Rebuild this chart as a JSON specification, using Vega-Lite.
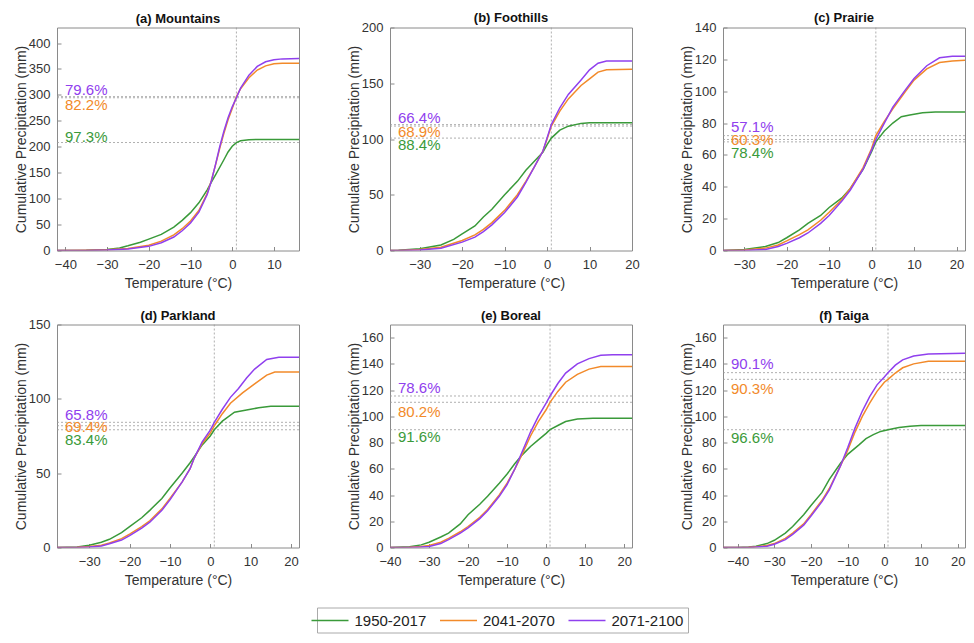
{
  "$schema": "https://vega.github.io/schema/vega-lite/v6.json",
  "background": "white",
  "padding": {"left": 13, "top": 11.5, "right": 2, "bottom": 2},
  "config": {
    "font": "Liberation Sans",
    "view": {"stroke": "#8a8a8a", "strokeWidth": 1},
    "axis": {"grid": false, "domain": false, "tickColor": "#8a8a8a", "tickSize": -4, "labelFontSize": 13, "labelColor": "#333333", "titleFontSize": 14, "titleFontWeight": "normal", "titleColor": "#333333", "labelOverlap": false},
    "axisX": {"labelPadding": 12, "titlePadding": 5, "labelFlush": false},
    "axisY": {"labelPadding": 11, "titlePadding": 0},
    "title": {"fontSize": 13, "fontWeight": "bold", "offset": 1.5, "color": "#111111", "anchor": "middle", "frame": "group"},
    "legend": {"orient": "none", "legendX": 260, "legendY": 580, "direction": "horizontal", "symbolType": "M-2.3125,0H2.3125", "symbolSize": 256, "symbolStrokeWidth": 1.5, "labelFontSize": 15, "labelColor": "#222222", "strokeColor": "#aaaaaa", "fillColor": "white", "padding": 4, "columnPadding": 9.5, "labelOffset": 15.5}
  },
  "datasets": {
    "curves": [
      {"panel":"a","s":"1950-2017","t":-42,"p":0},{"panel":"a","s":"1950-2017","t":-35,"p":0.5},{"panel":"a","s":"1950-2017","t":-30,"p":2},{"panel":"a","s":"1950-2017","t":-27,"p":5},{"panel":"a","s":"1950-2017","t":-25,"p":9},{"panel":"a","s":"1950-2017","t":-22,"p":16},{"panel":"a","s":"1950-2017","t":-20,"p":22},{"panel":"a","s":"1950-2017","t":-17,"p":31},{"panel":"a","s":"1950-2017","t":-14,"p":45},{"panel":"a","s":"1950-2017","t":-12,"p":58},{"panel":"a","s":"1950-2017","t":-10,"p":73},{"panel":"a","s":"1950-2017","t":-8,"p":92},{"panel":"a","s":"1950-2017","t":-6,"p":117},{"panel":"a","s":"1950-2017","t":-5,"p":132},{"panel":"a","s":"1950-2017","t":-4,"p":146},{"panel":"a","s":"1950-2017","t":-2,"p":175},{"panel":"a","s":"1950-2017","t":-1,"p":190},{"panel":"a","s":"1950-2017","t":0,"p":201},{"panel":"a","s":"1950-2017","t":1,"p":208},{"panel":"a","s":"1950-2017","t":2,"p":211.5},{"panel":"a","s":"1950-2017","t":4,"p":213.5},{"panel":"a","s":"1950-2017","t":6,"p":214},{"panel":"a","s":"1950-2017","t":16,"p":214},
      {"panel":"a","s":"2041-2070","t":-42,"p":0},{"panel":"a","s":"2041-2070","t":-35,"p":0.5},{"panel":"a","s":"2041-2070","t":-30,"p":1.5},{"panel":"a","s":"2041-2070","t":-25,"p":4},{"panel":"a","s":"2041-2070","t":-20,"p":10},{"panel":"a","s":"2041-2070","t":-17,"p":18},{"panel":"a","s":"2041-2070","t":-14,"p":30},{"panel":"a","s":"2041-2070","t":-12,"p":42},{"panel":"a","s":"2041-2070","t":-10,"p":57},{"panel":"a","s":"2041-2070","t":-8,"p":77},{"panel":"a","s":"2041-2070","t":-6,"p":110},{"panel":"a","s":"2041-2070","t":-5,"p":135},{"panel":"a","s":"2041-2070","t":-4,"p":165},{"panel":"a","s":"2041-2070","t":-3,"p":197},{"panel":"a","s":"2041-2070","t":-2,"p":226},{"panel":"a","s":"2041-2070","t":-1,"p":252},{"panel":"a","s":"2041-2070","t":0,"p":274},{"panel":"a","s":"2041-2070","t":1,"p":296.7},{"panel":"a","s":"2041-2070","t":2,"p":312},{"panel":"a","s":"2041-2070","t":4,"p":333},{"panel":"a","s":"2041-2070","t":6,"p":348},{"panel":"a","s":"2041-2070","t":8,"p":356},{"panel":"a","s":"2041-2070","t":10,"p":360},{"panel":"a","s":"2041-2070","t":12,"p":361},{"panel":"a","s":"2041-2070","t":16,"p":361},
      {"panel":"a","s":"2071-2100","t":-42,"p":0},{"panel":"a","s":"2071-2100","t":-35,"p":0.2},{"panel":"a","s":"2071-2100","t":-30,"p":0.8},{"panel":"a","s":"2071-2100","t":-25,"p":3},{"panel":"a","s":"2071-2100","t":-20,"p":8},{"panel":"a","s":"2071-2100","t":-17,"p":15},{"panel":"a","s":"2071-2100","t":-14,"p":26},{"panel":"a","s":"2071-2100","t":-12,"p":38},{"panel":"a","s":"2071-2100","t":-10,"p":53},{"panel":"a","s":"2071-2100","t":-8,"p":74},{"panel":"a","s":"2071-2100","t":-6,"p":108},{"panel":"a","s":"2071-2100","t":-5,"p":134},{"panel":"a","s":"2071-2100","t":-4,"p":166},{"panel":"a","s":"2071-2100","t":-3,"p":200},{"panel":"a","s":"2071-2100","t":-2,"p":230},{"panel":"a","s":"2071-2100","t":-1,"p":256},{"panel":"a","s":"2071-2100","t":0,"p":277},{"panel":"a","s":"2071-2100","t":1,"p":294.5},{"panel":"a","s":"2071-2100","t":2,"p":313},{"panel":"a","s":"2071-2100","t":4,"p":338},{"panel":"a","s":"2071-2100","t":6,"p":355},{"panel":"a","s":"2071-2100","t":8,"p":364},{"panel":"a","s":"2071-2100","t":10,"p":368},{"panel":"a","s":"2071-2100","t":12,"p":369.5},{"panel":"a","s":"2071-2100","t":16,"p":370},

      {"panel":"b","s":"1950-2017","t":-37,"p":0},{"panel":"b","s":"1950-2017","t":-35,"p":0.2},{"panel":"b","s":"1950-2017","t":-30,"p":1.5},{"panel":"b","s":"1950-2017","t":-25,"p":5},{"panel":"b","s":"1950-2017","t":-22,"p":10},{"panel":"b","s":"1950-2017","t":-20,"p":15},{"panel":"b","s":"1950-2017","t":-17,"p":22},{"panel":"b","s":"1950-2017","t":-15,"p":30},{"panel":"b","s":"1950-2017","t":-13,"p":37},{"panel":"b","s":"1950-2017","t":-10,"p":50},{"panel":"b","s":"1950-2017","t":-7,"p":62},{"panel":"b","s":"1950-2017","t":-5,"p":72},{"panel":"b","s":"1950-2017","t":-3,"p":80},{"panel":"b","s":"1950-2017","t":-1,"p":88},{"panel":"b","s":"1950-2017","t":0,"p":95},{"panel":"b","s":"1950-2017","t":1,"p":100.8},{"panel":"b","s":"1950-2017","t":3,"p":108},{"panel":"b","s":"1950-2017","t":5,"p":111.5},{"panel":"b","s":"1950-2017","t":8,"p":114},{"panel":"b","s":"1950-2017","t":10,"p":114.5},{"panel":"b","s":"1950-2017","t":20,"p":114.5},
      {"panel":"b","s":"2041-2070","t":-37,"p":0},{"panel":"b","s":"2041-2070","t":-35,"p":0.1},{"panel":"b","s":"2041-2070","t":-30,"p":0.8},{"panel":"b","s":"2041-2070","t":-25,"p":3},{"panel":"b","s":"2041-2070","t":-20,"p":9},{"panel":"b","s":"2041-2070","t":-17,"p":14},{"panel":"b","s":"2041-2070","t":-15,"p":19},{"panel":"b","s":"2041-2070","t":-13,"p":25},{"panel":"b","s":"2041-2070","t":-10,"p":36},{"panel":"b","s":"2041-2070","t":-7,"p":50},{"panel":"b","s":"2041-2070","t":-5,"p":62},{"panel":"b","s":"2041-2070","t":-3,"p":75},{"panel":"b","s":"2041-2070","t":-1,"p":89},{"panel":"b","s":"2041-2070","t":0,"p":100},{"panel":"b","s":"2041-2070","t":1,"p":111.6},{"panel":"b","s":"2041-2070","t":3,"p":125},{"panel":"b","s":"2041-2070","t":5,"p":136},{"panel":"b","s":"2041-2070","t":8,"p":148},{"panel":"b","s":"2041-2070","t":10,"p":154},{"panel":"b","s":"2041-2070","t":12,"p":160},{"panel":"b","s":"2041-2070","t":14,"p":162},{"panel":"b","s":"2041-2070","t":20,"p":162.5},
      {"panel":"b","s":"2071-2100","t":-37,"p":0},{"panel":"b","s":"2071-2100","t":-35,"p":0},{"panel":"b","s":"2071-2100","t":-30,"p":0.4},{"panel":"b","s":"2071-2100","t":-25,"p":2},{"panel":"b","s":"2071-2100","t":-20,"p":7.5},{"panel":"b","s":"2071-2100","t":-17,"p":12},{"panel":"b","s":"2071-2100","t":-15,"p":17},{"panel":"b","s":"2071-2100","t":-13,"p":23},{"panel":"b","s":"2071-2100","t":-10,"p":34},{"panel":"b","s":"2071-2100","t":-7,"p":48},{"panel":"b","s":"2071-2100","t":-5,"p":61},{"panel":"b","s":"2071-2100","t":-3,"p":75},{"panel":"b","s":"2071-2100","t":-1,"p":89},{"panel":"b","s":"2071-2100","t":0,"p":101},{"panel":"b","s":"2071-2100","t":1,"p":112.9},{"panel":"b","s":"2071-2100","t":3,"p":128},{"panel":"b","s":"2071-2100","t":5,"p":140},{"panel":"b","s":"2071-2100","t":8,"p":153},{"panel":"b","s":"2071-2100","t":10,"p":162},{"panel":"b","s":"2071-2100","t":12,"p":168},{"panel":"b","s":"2071-2100","t":14,"p":170},{"panel":"b","s":"2071-2100","t":20,"p":170},

      {"panel":"c","s":"1950-2017","t":-35,"p":0},{"panel":"c","s":"1950-2017","t":-30,"p":0.7},{"panel":"c","s":"1950-2017","t":-25,"p":2.5},{"panel":"c","s":"1950-2017","t":-22,"p":5},{"panel":"c","s":"1950-2017","t":-20,"p":8},{"panel":"c","s":"1950-2017","t":-17,"p":13},{"panel":"c","s":"1950-2017","t":-15,"p":17},{"panel":"c","s":"1950-2017","t":-12,"p":22},{"panel":"c","s":"1950-2017","t":-10,"p":27},{"panel":"c","s":"1950-2017","t":-7,"p":33},{"panel":"c","s":"1950-2017","t":-5,"p":39},{"panel":"c","s":"1950-2017","t":-2,"p":51},{"panel":"c","s":"1950-2017","t":0,"p":62},{"panel":"c","s":"1950-2017","t":1,"p":68.2},{"panel":"c","s":"1950-2017","t":3,"p":75},{"panel":"c","s":"1950-2017","t":5,"p":80},{"panel":"c","s":"1950-2017","t":7,"p":84},{"panel":"c","s":"1950-2017","t":9,"p":85},{"panel":"c","s":"1950-2017","t":12,"p":86.5},{"panel":"c","s":"1950-2017","t":15,"p":87},{"panel":"c","s":"1950-2017","t":22,"p":87},
      {"panel":"c","s":"2041-2070","t":-35,"p":0},{"panel":"c","s":"2041-2070","t":-30,"p":0.3},{"panel":"c","s":"2041-2070","t":-25,"p":1.5},{"panel":"c","s":"2041-2070","t":-22,"p":3.5},{"panel":"c","s":"2041-2070","t":-20,"p":6},{"panel":"c","s":"2041-2070","t":-17,"p":10},{"panel":"c","s":"2041-2070","t":-15,"p":13},{"panel":"c","s":"2041-2070","t":-12,"p":19},{"panel":"c","s":"2041-2070","t":-10,"p":24},{"panel":"c","s":"2041-2070","t":-7,"p":32},{"panel":"c","s":"2041-2070","t":-5,"p":39},{"panel":"c","s":"2041-2070","t":-2,"p":52},{"panel":"c","s":"2041-2070","t":0,"p":64},{"panel":"c","s":"2041-2070","t":1,"p":72.1},{"panel":"c","s":"2041-2070","t":3,"p":81},{"panel":"c","s":"2041-2070","t":5,"p":89},{"panel":"c","s":"2041-2070","t":8,"p":100},{"panel":"c","s":"2041-2070","t":10,"p":107},{"panel":"c","s":"2041-2070","t":13,"p":114},{"panel":"c","s":"2041-2070","t":16,"p":118},{"panel":"c","s":"2041-2070","t":19,"p":119},{"panel":"c","s":"2041-2070","t":22,"p":119.5},
      {"panel":"c","s":"2071-2100","t":-35,"p":0},{"panel":"c","s":"2071-2100","t":-30,"p":0},{"panel":"c","s":"2071-2100","t":-25,"p":0.7},{"panel":"c","s":"2071-2100","t":-22,"p":2.5},{"panel":"c","s":"2071-2100","t":-20,"p":4.5},{"panel":"c","s":"2071-2100","t":-17,"p":8},{"panel":"c","s":"2071-2100","t":-15,"p":11},{"panel":"c","s":"2071-2100","t":-12,"p":17},{"panel":"c","s":"2071-2100","t":-10,"p":22},{"panel":"c","s":"2071-2100","t":-7,"p":31},{"panel":"c","s":"2071-2100","t":-5,"p":38},{"panel":"c","s":"2071-2100","t":-2,"p":51},{"panel":"c","s":"2071-2100","t":0,"p":63},{"panel":"c","s":"2071-2100","t":1,"p":69.7},{"panel":"c","s":"2071-2100","t":3,"p":80},{"panel":"c","s":"2071-2100","t":5,"p":90},{"panel":"c","s":"2071-2100","t":8,"p":101},{"panel":"c","s":"2071-2100","t":10,"p":108},{"panel":"c","s":"2071-2100","t":13,"p":116},{"panel":"c","s":"2071-2100","t":16,"p":121},{"panel":"c","s":"2071-2100","t":19,"p":122},{"panel":"c","s":"2071-2100","t":22,"p":122},

      {"panel":"d","s":"1950-2017","t":-38,"p":0},{"panel":"d","s":"1950-2017","t":-33,"p":0.3},{"panel":"d","s":"1950-2017","t":-30,"p":1.5},{"panel":"d","s":"1950-2017","t":-27,"p":3.5},{"panel":"d","s":"1950-2017","t":-25,"p":5.5},{"panel":"d","s":"1950-2017","t":-22,"p":10},{"panel":"d","s":"1950-2017","t":-20,"p":14},{"panel":"d","s":"1950-2017","t":-17,"p":20},{"panel":"d","s":"1950-2017","t":-15,"p":25},{"panel":"d","s":"1950-2017","t":-12,"p":33},{"panel":"d","s":"1950-2017","t":-10,"p":40},{"panel":"d","s":"1950-2017","t":-7,"p":50},{"panel":"d","s":"1950-2017","t":-5,"p":57},{"panel":"d","s":"1950-2017","t":-4,"p":61},{"panel":"d","s":"1950-2017","t":-2,"p":69},{"panel":"d","s":"1950-2017","t":0,"p":75},{"panel":"d","s":"1950-2017","t":1,"p":79.2},{"panel":"d","s":"1950-2017","t":3,"p":85},{"panel":"d","s":"1950-2017","t":6,"p":91},{"panel":"d","s":"1950-2017","t":9,"p":92.5},{"panel":"d","s":"1950-2017","t":12,"p":94},{"panel":"d","s":"1950-2017","t":15,"p":95},{"panel":"d","s":"1950-2017","t":22,"p":95},
      {"panel":"d","s":"2041-2070","t":-38,"p":0},{"panel":"d","s":"2041-2070","t":-33,"p":0.1},{"panel":"d","s":"2041-2070","t":-30,"p":0.6},{"panel":"d","s":"2041-2070","t":-27,"p":1.5},{"panel":"d","s":"2041-2070","t":-25,"p":3},{"panel":"d","s":"2041-2070","t":-22,"p":6},{"panel":"d","s":"2041-2070","t":-20,"p":9},{"panel":"d","s":"2041-2070","t":-17,"p":14},{"panel":"d","s":"2041-2070","t":-15,"p":18},{"panel":"d","s":"2041-2070","t":-12,"p":26},{"panel":"d","s":"2041-2070","t":-10,"p":33},{"panel":"d","s":"2041-2070","t":-7,"p":44},{"panel":"d","s":"2041-2070","t":-5,"p":53},{"panel":"d","s":"2041-2070","t":-4,"p":60},{"panel":"d","s":"2041-2070","t":-2,"p":70},{"panel":"d","s":"2041-2070","t":0,"p":77},{"panel":"d","s":"2041-2070","t":1,"p":81.9},{"panel":"d","s":"2041-2070","t":3,"p":90},{"panel":"d","s":"2041-2070","t":5,"p":97},{"panel":"d","s":"2041-2070","t":8,"p":104},{"panel":"d","s":"2041-2070","t":11,"p":110},{"panel":"d","s":"2041-2070","t":14,"p":116},{"panel":"d","s":"2041-2070","t":16,"p":118},{"panel":"d","s":"2041-2070","t":22,"p":118},
      {"panel":"d","s":"2071-2100","t":-38,"p":0},{"panel":"d","s":"2071-2100","t":-33,"p":0},{"panel":"d","s":"2071-2100","t":-30,"p":0.3},{"panel":"d","s":"2071-2100","t":-27,"p":1},{"panel":"d","s":"2071-2100","t":-25,"p":2.5},{"panel":"d","s":"2071-2100","t":-22,"p":5},{"panel":"d","s":"2071-2100","t":-20,"p":8},{"panel":"d","s":"2071-2100","t":-17,"p":13},{"panel":"d","s":"2071-2100","t":-15,"p":17},{"panel":"d","s":"2071-2100","t":-12,"p":25},{"panel":"d","s":"2071-2100","t":-10,"p":32},{"panel":"d","s":"2071-2100","t":-7,"p":44},{"panel":"d","s":"2071-2100","t":-5,"p":53},{"panel":"d","s":"2071-2100","t":-4,"p":60},{"panel":"d","s":"2071-2100","t":-2,"p":71},{"panel":"d","s":"2071-2100","t":0,"p":79},{"panel":"d","s":"2071-2100","t":1,"p":84.2},{"panel":"d","s":"2071-2100","t":3,"p":93},{"panel":"d","s":"2071-2100","t":5,"p":101},{"panel":"d","s":"2071-2100","t":7,"p":107},{"panel":"d","s":"2071-2100","t":9,"p":114},{"panel":"d","s":"2071-2100","t":11,"p":120},{"panel":"d","s":"2071-2100","t":14,"p":126.5},{"panel":"d","s":"2071-2100","t":17,"p":128},{"panel":"d","s":"2071-2100","t":22,"p":128},

      {"panel":"e","s":"1950-2017","t":-40,"p":0},{"panel":"e","s":"1950-2017","t":-35,"p":0.5},{"panel":"e","s":"1950-2017","t":-32,"p":2},{"panel":"e","s":"1950-2017","t":-30,"p":4},{"panel":"e","s":"1950-2017","t":-27,"p":8},{"panel":"e","s":"1950-2017","t":-25,"p":11},{"panel":"e","s":"1950-2017","t":-22,"p":18},{"panel":"e","s":"1950-2017","t":-20,"p":25},{"panel":"e","s":"1950-2017","t":-17,"p":33},{"panel":"e","s":"1950-2017","t":-15,"p":39},{"panel":"e","s":"1950-2017","t":-12,"p":49},{"panel":"e","s":"1950-2017","t":-10,"p":56},{"panel":"e","s":"1950-2017","t":-8,"p":64},{"panel":"e","s":"1950-2017","t":-6,"p":71},{"panel":"e","s":"1950-2017","t":-4,"p":77},{"panel":"e","s":"1950-2017","t":-2,"p":82},{"panel":"e","s":"1950-2017","t":0,"p":87},{"panel":"e","s":"1950-2017","t":1,"p":89.8},{"panel":"e","s":"1950-2017","t":3,"p":93},{"panel":"e","s":"1950-2017","t":5,"p":96},{"panel":"e","s":"1950-2017","t":8,"p":98},{"panel":"e","s":"1950-2017","t":12,"p":98.5},{"panel":"e","s":"1950-2017","t":22,"p":98.5},
      {"panel":"e","s":"2041-2070","t":-40,"p":0},{"panel":"e","s":"2041-2070","t":-35,"p":0.2},{"panel":"e","s":"2041-2070","t":-32,"p":0.8},{"panel":"e","s":"2041-2070","t":-30,"p":1.5},{"panel":"e","s":"2041-2070","t":-27,"p":4},{"panel":"e","s":"2041-2070","t":-25,"p":7},{"panel":"e","s":"2041-2070","t":-22,"p":12},{"panel":"e","s":"2041-2070","t":-20,"p":16},{"panel":"e","s":"2041-2070","t":-17,"p":23},{"panel":"e","s":"2041-2070","t":-15,"p":29},{"panel":"e","s":"2041-2070","t":-12,"p":40},{"panel":"e","s":"2041-2070","t":-10,"p":49},{"panel":"e","s":"2041-2070","t":-8,"p":60},{"panel":"e","s":"2041-2070","t":-6,"p":72},{"panel":"e","s":"2041-2070","t":-4,"p":85},{"panel":"e","s":"2041-2070","t":-2,"p":96},{"panel":"e","s":"2041-2070","t":0,"p":105},{"panel":"e","s":"2041-2070","t":1,"p":110.7},{"panel":"e","s":"2041-2070","t":3,"p":119},{"panel":"e","s":"2041-2070","t":5,"p":126},{"panel":"e","s":"2041-2070","t":8,"p":132},{"panel":"e","s":"2041-2070","t":11,"p":136},{"panel":"e","s":"2041-2070","t":14,"p":138},{"panel":"e","s":"2041-2070","t":22,"p":138},
      {"panel":"e","s":"2071-2100","t":-40,"p":0},{"panel":"e","s":"2071-2100","t":-35,"p":0},{"panel":"e","s":"2071-2100","t":-32,"p":0.3},{"panel":"e","s":"2071-2100","t":-30,"p":0.8},{"panel":"e","s":"2071-2100","t":-27,"p":3},{"panel":"e","s":"2071-2100","t":-25,"p":6},{"panel":"e","s":"2071-2100","t":-22,"p":11},{"panel":"e","s":"2071-2100","t":-20,"p":15},{"panel":"e","s":"2071-2100","t":-17,"p":22},{"panel":"e","s":"2071-2100","t":-15,"p":28},{"panel":"e","s":"2071-2100","t":-12,"p":39},{"panel":"e","s":"2071-2100","t":-10,"p":48},{"panel":"e","s":"2071-2100","t":-8,"p":60},{"panel":"e","s":"2071-2100","t":-6,"p":74},{"panel":"e","s":"2071-2100","t":-4,"p":88},{"panel":"e","s":"2071-2100","t":-2,"p":100},{"panel":"e","s":"2071-2100","t":0,"p":110},{"panel":"e","s":"2071-2100","t":1,"p":115.5},{"panel":"e","s":"2071-2100","t":3,"p":125},{"panel":"e","s":"2071-2100","t":5,"p":133},{"panel":"e","s":"2071-2100","t":8,"p":140},{"panel":"e","s":"2071-2100","t":11,"p":144},{"panel":"e","s":"2071-2100","t":14,"p":146.5},{"panel":"e","s":"2071-2100","t":17,"p":147},{"panel":"e","s":"2071-2100","t":22,"p":147},

      {"panel":"f","s":"1950-2017","t":-44,"p":0},{"panel":"f","s":"1950-2017","t":-40,"p":0},{"panel":"f","s":"1950-2017","t":-37,"p":0.3},{"panel":"f","s":"1950-2017","t":-35,"p":1},{"panel":"f","s":"1950-2017","t":-32,"p":3},{"panel":"f","s":"1950-2017","t":-30,"p":5.5},{"panel":"f","s":"1950-2017","t":-27,"p":11},{"panel":"f","s":"1950-2017","t":-25,"p":16},{"panel":"f","s":"1950-2017","t":-22,"p":25},{"panel":"f","s":"1950-2017","t":-20,"p":32},{"panel":"f","s":"1950-2017","t":-17,"p":42},{"panel":"f","s":"1950-2017","t":-15,"p":52},{"panel":"f","s":"1950-2017","t":-12,"p":64},{"panel":"f","s":"1950-2017","t":-10,"p":71},{"panel":"f","s":"1950-2017","t":-7,"p":78},{"panel":"f","s":"1950-2017","t":-5,"p":83},{"panel":"f","s":"1950-2017","t":-3,"p":86},{"panel":"f","s":"1950-2017","t":-1,"p":88.5},{"panel":"f","s":"1950-2017","t":1,"p":89.8},{"panel":"f","s":"1950-2017","t":4,"p":91.5},{"panel":"f","s":"1950-2017","t":7,"p":92.5},{"panel":"f","s":"1950-2017","t":10,"p":93},{"panel":"f","s":"1950-2017","t":22,"p":93},
      {"panel":"f","s":"2041-2070","t":-44,"p":0},{"panel":"f","s":"2041-2070","t":-40,"p":0},{"panel":"f","s":"2041-2070","t":-37,"p":0.1},{"panel":"f","s":"2041-2070","t":-35,"p":0.5},{"panel":"f","s":"2041-2070","t":-32,"p":1.5},{"panel":"f","s":"2041-2070","t":-30,"p":3},{"panel":"f","s":"2041-2070","t":-27,"p":7},{"panel":"f","s":"2041-2070","t":-25,"p":11},{"panel":"f","s":"2041-2070","t":-22,"p":18},{"panel":"f","s":"2041-2070","t":-20,"p":25},{"panel":"f","s":"2041-2070","t":-17,"p":36},{"panel":"f","s":"2041-2070","t":-15,"p":45},{"panel":"f","s":"2041-2070","t":-12,"p":62},{"panel":"f","s":"2041-2070","t":-10,"p":74},{"panel":"f","s":"2041-2070","t":-8,"p":88},{"panel":"f","s":"2041-2070","t":-6,"p":100},{"panel":"f","s":"2041-2070","t":-4,"p":110},{"panel":"f","s":"2041-2070","t":-2,"p":119},{"panel":"f","s":"2041-2070","t":0,"p":126},{"panel":"f","s":"2041-2070","t":1,"p":128.2},{"panel":"f","s":"2041-2070","t":3,"p":133},{"panel":"f","s":"2041-2070","t":5,"p":137},{"panel":"f","s":"2041-2070","t":8,"p":140},{"panel":"f","s":"2041-2070","t":12,"p":142},{"panel":"f","s":"2041-2070","t":22,"p":142},
      {"panel":"f","s":"2071-2100","t":-44,"p":0},{"panel":"f","s":"2071-2100","t":-40,"p":0},{"panel":"f","s":"2071-2100","t":-37,"p":0},{"panel":"f","s":"2071-2100","t":-35,"p":0.3},{"panel":"f","s":"2071-2100","t":-32,"p":1},{"panel":"f","s":"2071-2100","t":-30,"p":2.5},{"panel":"f","s":"2071-2100","t":-27,"p":6},{"panel":"f","s":"2071-2100","t":-25,"p":10},{"panel":"f","s":"2071-2100","t":-22,"p":17},{"panel":"f","s":"2071-2100","t":-20,"p":24},{"panel":"f","s":"2071-2100","t":-17,"p":35},{"panel":"f","s":"2071-2100","t":-15,"p":44},{"panel":"f","s":"2071-2100","t":-12,"p":62},{"panel":"f","s":"2071-2100","t":-10,"p":76},{"panel":"f","s":"2071-2100","t":-8,"p":91},{"panel":"f","s":"2071-2100","t":-6,"p":104},{"panel":"f","s":"2071-2100","t":-4,"p":115},{"panel":"f","s":"2071-2100","t":-2,"p":124},{"panel":"f","s":"2071-2100","t":0,"p":130},{"panel":"f","s":"2071-2100","t":1,"p":133.3},{"panel":"f","s":"2071-2100","t":3,"p":139},{"panel":"f","s":"2071-2100","t":5,"p":143},{"panel":"f","s":"2071-2100","t":8,"p":146},{"panel":"f","s":"2071-2100","t":12,"p":147.5},{"panel":"f","s":"2071-2100","t":22,"p":148}
    ],
    "refs": [
      {"panel":"a","s":"2071-2100","y":294.5,"label":"79.6%","lx":-42,"ly":309},
      {"panel":"a","s":"2041-2070","y":296.7,"label":"82.2%","lx":-42,"ly":280},
      {"panel":"a","s":"1950-2017","y":208.2,"label":"97.3%","lx":-42,"ly":219.5},
      {"panel":"b","s":"2071-2100","y":112.9,"label":"66.4%","lx":-37,"ly":119},
      {"panel":"b","s":"2041-2070","y":111.6,"label":"68.9%","lx":-37,"ly":106},
      {"panel":"b","s":"1950-2017","y":100.8,"label":"88.4%","lx":-37,"ly":95},
      {"panel":"c","s":"2071-2100","y":69.7,"label":"57.1%","lx":-35,"ly":77.7},
      {"panel":"c","s":"2041-2070","y":72.1,"label":"60.3%","lx":-35,"ly":69.3},
      {"panel":"c","s":"1950-2017","y":68.2,"label":"78.4%","lx":-35,"ly":61.5},
      {"panel":"d","s":"2071-2100","y":84.2,"label":"65.8%","lx":-38,"ly":88.8},
      {"panel":"d","s":"2041-2070","y":81.9,"label":"69.4%","lx":-38,"ly":81},
      {"panel":"d","s":"1950-2017","y":79.2,"label":"83.4%","lx":-38,"ly":72.4},
      {"panel":"e","s":"2071-2100","y":115.5,"label":"78.6%","lx":-40,"ly":121.9},
      {"panel":"e","s":"2041-2070","y":110.7,"label":"80.2%","lx":-40,"ly":103.4},
      {"panel":"e","s":"1950-2017","y":89.8,"label":"91.6%","lx":-40,"ly":84.3},
      {"panel":"f","s":"2071-2100","y":133.3,"label":"90.1%","lx":-44,"ly":139.7},
      {"panel":"f","s":"2041-2070","y":128.2,"label":"90.3%","lx":-44,"ly":121.1},
      {"panel":"f","s":"1950-2017","y":89.8,"label":"96.6%","lx":-44,"ly":83.8}
    ]
  },
  "columns": 3,
  "bounds": "flush",
  "spacing": {"row": 74, "column": 91},
  "concat": [
    {"title": {"text": "(a) Mountains", "offset": 1.5}, "width": 242, "height": 223,
     "layer": [
      {"data": {"values": [{"t": 1}]}, "mark": {"type": "rule", "color": "#9a9a9a", "strokeDash": [2, 2], "strokeWidth": 0.8}, "encoding": {"x": {"field": "t", "type": "quantitative", "scale": {"domain": [-42, 16], "nice": false}, "axis": {"title": "Temperature (°C)", "values": [-40, -30, -20, -10, 0, 10], "labelOverlap": false}}}},
      {"data": {"name": "refs"}, "transform": [{"filter": "datum.panel === 'a'"}], "mark": {"type": "rule", "color": "#9a9a9a", "strokeDash": [2, 2], "strokeWidth": 0.8}, "encoding": {"y": {"field": "y", "type": "quantitative", "scale": {"domain": [0, 430], "nice": false}, "axis": {"title": "Cumulative Precipitation (mm)", "values": [0, 50, 100, 150, 200, 250, 300, 350, 400], "labelOverlap": false}}}},
      {"data": {"name": "curves"}, "transform": [{"filter": "datum.panel === 'a'"}], "mark": {"type": "line", "strokeWidth": 1.5, "clip": true},
       "encoding": {
        "x": {"field": "t", "type": "quantitative", "scale": {"domain": [-42, 16], "nice": false}, "axis": {"title": "Temperature (°C)", "values": [-40, -30, -20, -10, 0, 10], "labelOverlap": false}},
        "y": {"field": "p", "type": "quantitative", "scale": {"domain": [0, 430], "nice": false}, "axis": {"title": "Cumulative Precipitation (mm)", "values": [0, 50, 100, 150, 200, 250, 300, 350, 400], "labelOverlap": false}},
        "color": {"field": "s", "type": "nominal", "scale": {"domain": ["1950-2017", "2041-2070", "2071-2100"], "range": ["#3a9a3a", "#f28a2a", "#9040ee"]}, "legend": {"title": null}}}},
      {"data": {"name": "refs"}, "transform": [{"filter": "datum.panel === 'a'"}], "mark": {"type": "text", "align": "left", "baseline": "middle", "dx": 8, "fontSize": 15},
       "encoding": {"x": {"field": "lx", "type": "quantitative", "scale": {"domain": [-42, 16], "nice": false}, "axis": {"title": "Temperature (°C)", "values": [-40, -30, -20, -10, 0, 10], "labelOverlap": false}}, "y": {"field": "ly", "type": "quantitative", "scale": {"domain": [0, 430], "nice": false}, "axis": {"title": "Cumulative Precipitation (mm)", "values": [0, 50, 100, 150, 200, 250, 300, 350, 400], "labelOverlap": false}}, "text": {"field": "label"}, "color": {"field": "s", "type": "nominal", "legend": null}}}
     ]},
    {"title": {"text": "(b) Foothills", "offset": -3.5}, "width": 242, "height": 223,
     "layer": [
      {"data": {"values": [{"t": 1}]}, "mark": {"type": "rule", "color": "#9a9a9a", "strokeDash": [2, 2], "strokeWidth": 0.8}, "encoding": {"x": {"field": "t", "type": "quantitative", "scale": {"domain": [-37, 20], "nice": false}, "axis": {"title": "Temperature (°C)", "values": [-30, -20, -10, 0, 10, 20], "labelOverlap": false}}}},
      {"data": {"name": "refs"}, "transform": [{"filter": "datum.panel === 'b'"}], "mark": {"type": "rule", "color": "#9a9a9a", "strokeDash": [2, 2], "strokeWidth": 0.8}, "encoding": {"y": {"field": "y", "type": "quantitative", "scale": {"domain": [0, 200], "nice": false}, "axis": {"title": "Cumulative Precipitation (mm)", "values": [0, 50, 100, 150, 200], "labelOverlap": false}}}},
      {"data": {"name": "curves"}, "transform": [{"filter": "datum.panel === 'b'"}], "mark": {"type": "line", "strokeWidth": 1.5, "clip": true},
       "encoding": {
        "x": {"field": "t", "type": "quantitative", "scale": {"domain": [-37, 20], "nice": false}, "axis": {"title": "Temperature (°C)", "values": [-30, -20, -10, 0, 10, 20], "labelOverlap": false}},
        "y": {"field": "p", "type": "quantitative", "scale": {"domain": [0, 200], "nice": false}, "axis": {"title": "Cumulative Precipitation (mm)", "values": [0, 50, 100, 150, 200], "labelOverlap": false}},
        "color": {"field": "s", "type": "nominal", "scale": {"domain": ["1950-2017", "2041-2070", "2071-2100"], "range": ["#3a9a3a", "#f28a2a", "#9040ee"]}, "legend": {"title": null}}}},
      {"data": {"name": "refs"}, "transform": [{"filter": "datum.panel === 'b'"}], "mark": {"type": "text", "align": "left", "baseline": "middle", "dx": 8, "fontSize": 15},
       "encoding": {"x": {"field": "lx", "type": "quantitative", "scale": {"domain": [-37, 20], "nice": false}, "axis": {"title": "Temperature (°C)", "values": [-30, -20, -10, 0, 10, 20], "labelOverlap": false}}, "y": {"field": "ly", "type": "quantitative", "scale": {"domain": [0, 200], "nice": false}, "axis": {"title": "Cumulative Precipitation (mm)", "values": [0, 50, 100, 150, 200], "labelOverlap": false}}, "text": {"field": "label"}, "color": {"field": "s", "type": "nominal", "legend": null}}}
     ]},
    {"title": {"text": "(c) Prairie", "offset": -3.5}, "width": 242, "height": 223,
     "layer": [
      {"data": {"values": [{"t": 1}]}, "mark": {"type": "rule", "color": "#9a9a9a", "strokeDash": [2, 2], "strokeWidth": 0.8}, "encoding": {"x": {"field": "t", "type": "quantitative", "scale": {"domain": [-35, 22], "nice": false}, "axis": {"title": "Temperature (°C)", "values": [-30, -20, -10, 0, 10, 20], "labelOverlap": false}}}},
      {"data": {"name": "refs"}, "transform": [{"filter": "datum.panel === 'c'"}], "mark": {"type": "rule", "color": "#9a9a9a", "strokeDash": [2, 2], "strokeWidth": 0.8}, "encoding": {"y": {"field": "y", "type": "quantitative", "scale": {"domain": [0, 140], "nice": false}, "axis": {"title": "Cumulative Precipitation (mm)", "values": [0, 20, 40, 60, 80, 100, 120, 140], "labelOverlap": false}}}},
      {"data": {"name": "curves"}, "transform": [{"filter": "datum.panel === 'c'"}], "mark": {"type": "line", "strokeWidth": 1.5, "clip": true},
       "encoding": {
        "x": {"field": "t", "type": "quantitative", "scale": {"domain": [-35, 22], "nice": false}, "axis": {"title": "Temperature (°C)", "values": [-30, -20, -10, 0, 10, 20], "labelOverlap": false}},
        "y": {"field": "p", "type": "quantitative", "scale": {"domain": [0, 140], "nice": false}, "axis": {"title": "Cumulative Precipitation (mm)", "values": [0, 20, 40, 60, 80, 100, 120, 140], "labelOverlap": false}},
        "color": {"field": "s", "type": "nominal", "scale": {"domain": ["1950-2017", "2041-2070", "2071-2100"], "range": ["#3a9a3a", "#f28a2a", "#9040ee"]}, "legend": {"title": null}}}},
      {"data": {"name": "refs"}, "transform": [{"filter": "datum.panel === 'c'"}], "mark": {"type": "text", "align": "left", "baseline": "middle", "dx": 8, "fontSize": 15},
       "encoding": {"x": {"field": "lx", "type": "quantitative", "scale": {"domain": [-35, 22], "nice": false}, "axis": {"title": "Temperature (°C)", "values": [-30, -20, -10, 0, 10, 20], "labelOverlap": false}}, "y": {"field": "ly", "type": "quantitative", "scale": {"domain": [0, 140], "nice": false}, "axis": {"title": "Cumulative Precipitation (mm)", "values": [0, 20, 40, 60, 80, 100, 120, 140], "labelOverlap": false}}, "text": {"field": "label"}, "color": {"field": "s", "type": "nominal", "legend": null}}}
     ]},
    {"title": {"text": "(d) Parkland", "offset": -4.5}, "width": 242, "height": 223,
     "layer": [
      {"data": {"values": [{"t": 1}]}, "mark": {"type": "rule", "color": "#9a9a9a", "strokeDash": [2, 2], "strokeWidth": 0.8}, "encoding": {"x": {"field": "t", "type": "quantitative", "scale": {"domain": [-38, 22], "nice": false}, "axis": {"title": "Temperature (°C)", "values": [-30, -20, -10, 0, 10, 20], "labelOverlap": false}}}},
      {"data": {"name": "refs"}, "transform": [{"filter": "datum.panel === 'd'"}], "mark": {"type": "rule", "color": "#9a9a9a", "strokeDash": [2, 2], "strokeWidth": 0.8}, "encoding": {"y": {"field": "y", "type": "quantitative", "scale": {"domain": [0, 150], "nice": false}, "axis": {"title": "Cumulative Precipitation (mm)", "values": [0, 50, 100, 150], "labelOverlap": false}}}},
      {"data": {"name": "curves"}, "transform": [{"filter": "datum.panel === 'd'"}], "mark": {"type": "line", "strokeWidth": 1.5, "clip": true},
       "encoding": {
        "x": {"field": "t", "type": "quantitative", "scale": {"domain": [-38, 22], "nice": false}, "axis": {"title": "Temperature (°C)", "values": [-30, -20, -10, 0, 10, 20], "labelOverlap": false}},
        "y": {"field": "p", "type": "quantitative", "scale": {"domain": [0, 150], "nice": false}, "axis": {"title": "Cumulative Precipitation (mm)", "values": [0, 50, 100, 150], "labelOverlap": false}},
        "color": {"field": "s", "type": "nominal", "scale": {"domain": ["1950-2017", "2041-2070", "2071-2100"], "range": ["#3a9a3a", "#f28a2a", "#9040ee"]}, "legend": {"title": null}}}},
      {"data": {"name": "refs"}, "transform": [{"filter": "datum.panel === 'd'"}], "mark": {"type": "text", "align": "left", "baseline": "middle", "dx": 8, "fontSize": 15},
       "encoding": {"x": {"field": "lx", "type": "quantitative", "scale": {"domain": [-38, 22], "nice": false}, "axis": {"title": "Temperature (°C)", "values": [-30, -20, -10, 0, 10, 20], "labelOverlap": false}}, "y": {"field": "ly", "type": "quantitative", "scale": {"domain": [0, 150], "nice": false}, "axis": {"title": "Cumulative Precipitation (mm)", "values": [0, 50, 100, 150], "labelOverlap": false}}, "text": {"field": "label"}, "color": {"field": "s", "type": "nominal", "legend": null}}}
     ]},
    {"title": {"text": "(e) Boreal", "offset": 1.5}, "width": 242, "height": 223,
     "layer": [
      {"data": {"values": [{"t": 1}]}, "mark": {"type": "rule", "color": "#9a9a9a", "strokeDash": [2, 2], "strokeWidth": 0.8}, "encoding": {"x": {"field": "t", "type": "quantitative", "scale": {"domain": [-40, 22], "nice": false}, "axis": {"title": "Temperature (°C)", "values": [-40, -30, -20, -10, 0, 10, 20], "labelOverlap": false}}}},
      {"data": {"name": "refs"}, "transform": [{"filter": "datum.panel === 'e'"}], "mark": {"type": "rule", "color": "#9a9a9a", "strokeDash": [2, 2], "strokeWidth": 0.8}, "encoding": {"y": {"field": "y", "type": "quantitative", "scale": {"domain": [0, 170], "nice": false}, "axis": {"title": "Cumulative Precipitation (mm)", "values": [0, 20, 40, 60, 80, 100, 120, 140, 160], "labelOverlap": false}}}},
      {"data": {"name": "curves"}, "transform": [{"filter": "datum.panel === 'e'"}], "mark": {"type": "line", "strokeWidth": 1.5, "clip": true},
       "encoding": {
        "x": {"field": "t", "type": "quantitative", "scale": {"domain": [-40, 22], "nice": false}, "axis": {"title": "Temperature (°C)", "values": [-40, -30, -20, -10, 0, 10, 20], "labelOverlap": false}},
        "y": {"field": "p", "type": "quantitative", "scale": {"domain": [0, 170], "nice": false}, "axis": {"title": "Cumulative Precipitation (mm)", "values": [0, 20, 40, 60, 80, 100, 120, 140, 160], "labelOverlap": false}},
        "color": {"field": "s", "type": "nominal", "scale": {"domain": ["1950-2017", "2041-2070", "2071-2100"], "range": ["#3a9a3a", "#f28a2a", "#9040ee"]}, "legend": {"title": null}}}},
      {"data": {"name": "refs"}, "transform": [{"filter": "datum.panel === 'e'"}], "mark": {"type": "text", "align": "left", "baseline": "middle", "dx": 8, "fontSize": 15},
       "encoding": {"x": {"field": "lx", "type": "quantitative", "scale": {"domain": [-40, 22], "nice": false}, "axis": {"title": "Temperature (°C)", "values": [-40, -30, -20, -10, 0, 10, 20], "labelOverlap": false}}, "y": {"field": "ly", "type": "quantitative", "scale": {"domain": [0, 170], "nice": false}, "axis": {"title": "Cumulative Precipitation (mm)", "values": [0, 20, 40, 60, 80, 100, 120, 140, 160], "labelOverlap": false}}, "text": {"field": "label"}, "color": {"field": "s", "type": "nominal", "legend": null}}}
     ]},
    {"title": {"text": "(f) Taiga", "offset": 1.5}, "width": 242, "height": 223,
     "layer": [
      {"data": {"values": [{"t": 1}]}, "mark": {"type": "rule", "color": "#9a9a9a", "strokeDash": [2, 2], "strokeWidth": 0.8}, "encoding": {"x": {"field": "t", "type": "quantitative", "scale": {"domain": [-44, 22], "nice": false}, "axis": {"title": "Temperature (°C)", "values": [-40, -30, -20, -10, 0, 10, 20], "labelOverlap": false}}}},
      {"data": {"name": "refs"}, "transform": [{"filter": "datum.panel === 'f'"}], "mark": {"type": "rule", "color": "#9a9a9a", "strokeDash": [2, 2], "strokeWidth": 0.8}, "encoding": {"y": {"field": "y", "type": "quantitative", "scale": {"domain": [0, 170], "nice": false}, "axis": {"title": "Cumulative Precipitation (mm)", "values": [0, 20, 40, 60, 80, 100, 120, 140, 160], "labelOverlap": false}}}},
      {"data": {"name": "curves"}, "transform": [{"filter": "datum.panel === 'f'"}], "mark": {"type": "line", "strokeWidth": 1.5, "clip": true},
       "encoding": {
        "x": {"field": "t", "type": "quantitative", "scale": {"domain": [-44, 22], "nice": false}, "axis": {"title": "Temperature (°C)", "values": [-40, -30, -20, -10, 0, 10, 20], "labelOverlap": false}},
        "y": {"field": "p", "type": "quantitative", "scale": {"domain": [0, 170], "nice": false}, "axis": {"title": "Cumulative Precipitation (mm)", "values": [0, 20, 40, 60, 80, 100, 120, 140, 160], "labelOverlap": false}},
        "color": {"field": "s", "type": "nominal", "scale": {"domain": ["1950-2017", "2041-2070", "2071-2100"], "range": ["#3a9a3a", "#f28a2a", "#9040ee"]}, "legend": {"title": null}}}},
      {"data": {"name": "refs"}, "transform": [{"filter": "datum.panel === 'f'"}], "mark": {"type": "text", "align": "left", "baseline": "middle", "dx": 8, "fontSize": 15},
       "encoding": {"x": {"field": "lx", "type": "quantitative", "scale": {"domain": [-44, 22], "nice": false}, "axis": {"title": "Temperature (°C)", "values": [-40, -30, -20, -10, 0, 10, 20], "labelOverlap": false}}, "y": {"field": "ly", "type": "quantitative", "scale": {"domain": [0, 170], "nice": false}, "axis": {"title": "Cumulative Precipitation (mm)", "values": [0, 20, 40, 60, 80, 100, 120, 140, 160], "labelOverlap": false}}, "text": {"field": "label"}, "color": {"field": "s", "type": "nominal", "legend": null}}}
     ]}
  ]
}
